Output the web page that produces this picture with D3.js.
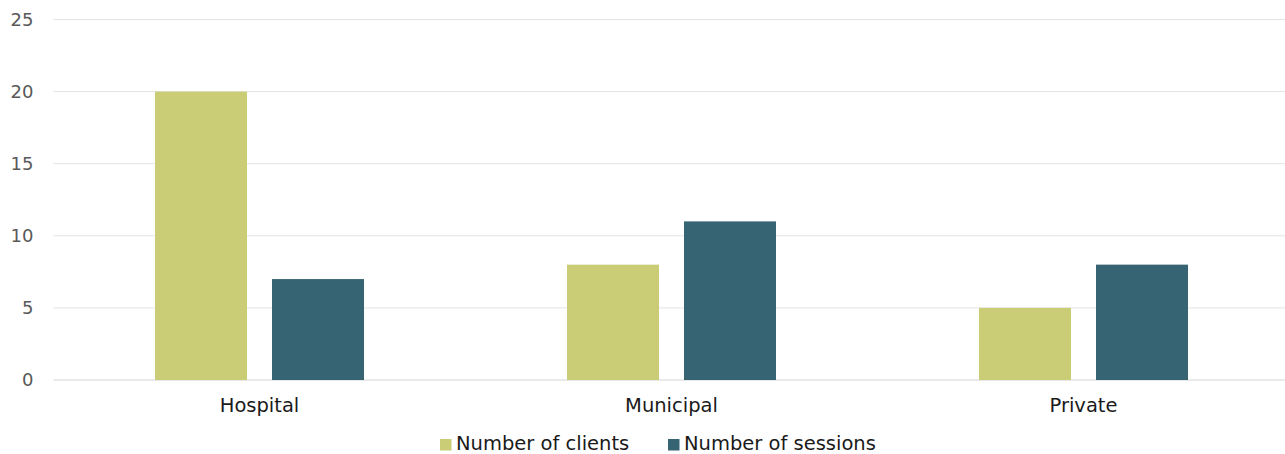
<!DOCTYPE html>
<html>
<head>
<meta charset="utf-8">
<script src="https://cdn.jsdelivr.net/npm/d3@7"></script>
<style>
  html, body { margin: 0; padding: 0; background: #fff; }
  svg { display: block; font-family: "DejaVu Sans", Verdana, sans-serif; }
</style>
</head>
<body>
<svg id="chart" width="1285" height="454"></svg>
<script>
const categories = ["Hospital", "Municipal", "Private"];
const seriesNames = ["Number of clients", "Number of sessions"];
const clients = [20, 8, 5];
const sessions = [7, 11, 8];
const yTicks = [0, 5, 10, 15, 20, 25];
const colors = ["#cbcc76", "#376472"];

(function drawChart() {
  const svg = d3.select("#chart");
  const plotLeft = 53.5, plotRight = 1289.5, plotTop = 19.5, plotBottom = 380;
  const fontFamily = "DejaVu Sans, Verdana, sans-serif";

  const x = d3.scaleBand().domain(categories).range([plotLeft, plotRight]);
  const step = x.step();
  const x1 = d3.scaleBand().domain(seriesNames)
    .range([step * 0.2464, step * 0.7536]).paddingInner(0.2137);
  const y = d3.scaleLinear().domain([0, 25]).range([plotBottom, plotTop]);

  // horizontal gridlines
  svg.append("g").selectAll("line").data(yTicks).join("line")
    .attr("x1", plotLeft).attr("x2", plotRight)
    .attr("y1", d => y(d)).attr("y2", d => y(d))
    .attr("stroke", d => d === 0 ? "#d4d4d4" : "#e3e3e3")
    .attr("stroke-width", 1);

  // y axis labels
  const yAxis = d3.axisLeft(y).tickValues(yTicks).tickSize(0).tickPadding(0);
  const yg = svg.append("g").attr("transform", "translate(33.5,0)").call(yAxis);
  yg.select(".domain").remove();
  yg.selectAll("text").attr("fill", "#595959").attr("font-size", 18)
    .attr("font-family", fontFamily);

  // bars
  const rows = categories.map((c, i) => ({ cat: c, values: [clients[i], sessions[i]] }));
  const groups = svg.append("g").selectAll("g").data(rows).join("g")
    .attr("transform", d => `translate(${x(d.cat)},0)`);
  groups.selectAll("rect").data(d => d.values.map((v, j) => ({ key: seriesNames[j], v, j })))
    .join("rect")
    .attr("x", d => x1(d.key))
    .attr("width", x1.bandwidth())
    .attr("y", d => y(d.v))
    .attr("height", d => y(0) - y(d.v))
    .attr("fill", d => colors[d.j]);

  // category axis labels
  const xAxis = d3.axisBottom(x).tickSize(0).tickPadding(0);
  const xg = svg.append("g").attr("transform", `translate(0,${plotBottom + 18})`).call(xAxis);
  xg.select(".domain").remove();
  xg.selectAll("text").attr("fill", "#1a1a1a").attr("font-size", 19.5)
    .attr("font-family", fontFamily);

  // legend
  const legendX = [440, 668];
  const legend = svg.append("g").selectAll("g").data(seriesNames).join("g")
    .attr("transform", (d, i) => `translate(${legendX[i]},439)`);
  legend.append("rect").attr("width", 11.5).attr("height", 11.5).attr("fill", (d, i) => colors[i]);
  legend.append("text").attr("x", 16).attr("y", 11)
    .attr("font-size", 19.5).attr("fill", "#1a1a1a").text(d => d);
})();
</script>
</body>
</html>
